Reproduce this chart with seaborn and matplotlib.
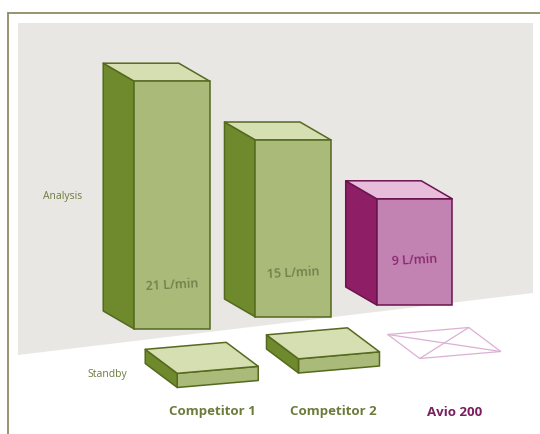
import numpy as np
import pandas as pd
import matplotlib
matplotlib.use("Agg")
import matplotlib.pyplot as plt
import seaborn as sns
from matplotlib.patches import Polygon
from matplotlib.lines import Line2D

# ---------------- data ----------------
categories = ["Competitor 1", "Competitor 2", "Avio 200"]
analysis = [21, 15, 9]            # L/min in analysis mode
standby = [1.2, 1.2, 0.0]         # L/min in standby mode
value_labels = ["21 L/min", "15 L/min", "9 L/min"]
row_labels = ["Analysis", "Standby"]

# ---------------- style ----------------
sns.set_theme(style="white")
plt.rcParams['font.family'] = ['Open Sans', 'DejaVu Sans']

W, H = 540, 434
PX_X, PX_Y = 121.25, 11.8          # pixels per category step / per L/min
X_OFF = 172.0                      # pixel x of first category centre

face = ["#a9ba79", "#a9ba79", "#c283b3"]
side = ["#6f8a2c", "#6f8a2c", "#8e1f66"]
topc = ["#d5dfb2", "#d5dfb2", "#e8bddc"]
edge = ["#55691f", "#55691f", "#6c1450"]
label_col = ["#6c7b3c", "#6c7b3c", "#7a1f5e"]
value_col = ["#727f4a", "#727f4a", "#8a2a6c"]

fig = plt.figure(figsize=(W / 100, H / 100), dpi=100)
ax = fig.add_axes([0, 0, 1, 1])
ax.set_facecolor("none")
fig.patch.set_facecolor("white")


def dx(p):
    return p / PX_X


def dy(p):
    return p / PX_Y


# perspective: baseline rises slightly from left to right
idx = np.arange(len(categories))
base = dy(H - 329) + dy(12) * idx

df = pd.DataFrame({"category": categories, "value": analysis})
sns.barplot(data=df, x="category", y="value", bottom=base, width=0.623,
            errorbar=None, ax=ax, color=face[0], edgecolor=edge[0],
            linewidth=1.1, zorder=3)

bars = [p for p in ax.patches]
depth = (dx(-31), dy(18))
for i, p in enumerate(bars):
    p.set_facecolor(face[i])
    p.set_edgecolor(edge[i])
    x0, y0, w, h = p.get_x(), p.get_y(), p.get_width(), p.get_height()
    # left side face
    s = [(x0, y0), (x0, y0 + h), (x0 + depth[0], y0 + h + depth[1]),
         (x0 + depth[0], y0 + depth[1])]
    ax.add_patch(Polygon(s, closed=True, facecolor=side[i], edgecolor=edge[i],
                         lw=1.1, zorder=2.9, joinstyle="round"))
    # top face
    t = [(x0, y0 + h), (x0 + w, y0 + h),
         (x0 + w + depth[0], y0 + h + depth[1]),
         (x0 + depth[0], y0 + h + depth[1])]
    ax.add_patch(Polygon(t, closed=True, facecolor=topc[i], edgecolor=edge[i],
                         lw=1.1, zorder=2.9, joinstyle="round"))
    # value label
    ax.text(x0 + w / 2, y0 + 3.75, value_labels[i], ha="center", va="center",
            rotation=3, fontsize=9, fontweight="semibold", color=value_col[i],
            zorder=5)

    # standby slab
    sx = x0 + dx(43)
    sy = dy(H - 387.5) + dy(14.5) * i
    fv = (dx(81), dy(7))
    dv = (dx(-32), dy(24))
    th = standby[i]
    P0 = (sx, sy)
    P1 = (sx + fv[0], sy + fv[1])
    P2 = (P1[0], P1[1] + th)
    P3 = (P0[0], P0[1] + th)
    P2b = (P2[0] + dv[0], P2[1] + dv[1])
    P3b = (P3[0] + dv[0], P3[1] + dv[1])
    if th > 0:
        ax.add_patch(Polygon([P0, P1, P2, P3], closed=True, facecolor=face[i],
                             edgecolor=edge[i], lw=1.1, zorder=3, joinstyle="round"))
        ax.add_patch(Polygon([P0, P3, P3b, (P0[0] + dv[0], P0[1] + dv[1])],
                             closed=True, facecolor=side[i], edgecolor=edge[i],
                             lw=1.1, zorder=3, joinstyle="round"))
        ax.add_patch(Polygon([P3, P2, P2b, P3b], closed=True, facecolor=topc[i],
                             edgecolor=edge[i], lw=1.1, zorder=3, joinstyle="round"))
    else:
        ax.add_patch(Polygon([P3, P2, P2b, P3b], closed=True, facecolor="none",
                             edgecolor="#dcb0d4", lw=0.9, zorder=3))
        ax.add_line(Line2D([P3[0], P2b[0]], [P3[1], P2b[1]], color="#dcb0d4",
                           lw=0.9, zorder=3))
        ax.add_line(Line2D([P2[0], P3b[0]], [P2[1], P3b[1]], color="#dcb0d4",
                           lw=0.9, zorder=3))

    # category label
    ax.text(i + 0.33, dy(H - 412), categories[i], ha="center", va="center",
            fontsize=9.5, fontweight="bold", color=label_col[i], zorder=5)

# axis scaling so that the drawing fills the figure
ax.set_xlim(-X_OFF / PX_X, (W - X_OFF) / PX_X)
ax.set_ylim(0, H / PX_Y)
ax.axis("off")

# grey back panel
panel = [(18 / W, 1 - 23 / H), (533 / W, 1 - 23 / H), (533 / W, 1 - 293 / H),
         (18 / W, 1 - 355 / H)]
ax.add_patch(Polygon(panel, closed=True, transform=ax.transAxes,
                     facecolor="#e9e7e3", edgecolor="none", zorder=0))

# frame
ax.add_line(Line2D([8 / W, 1], [1 - 13 / H, 1 - 13 / H], transform=ax.transAxes,
                   color="#8c8c66", lw=1.3, zorder=6, clip_on=False))
ax.add_line(Line2D([8 / W, 8 / W], [1 - 13 / H, 0], transform=ax.transAxes,
                   color="#8c8c66", lw=1.3, zorder=6, clip_on=False))

# row labels
ax.text(63 / W, 1 - 197 / H, row_labels[0], transform=ax.transAxes, ha="center",
        va="center", fontsize=7.5, color="#6c7b3c")
ax.text(107 / W, 1 - 375 / H, row_labels[1], transform=ax.transAxes, ha="center",
        va="center", fontsize=7.5, color="#6c7b3c")

fig.savefig("out.png", dpi=100, facecolor="white")
